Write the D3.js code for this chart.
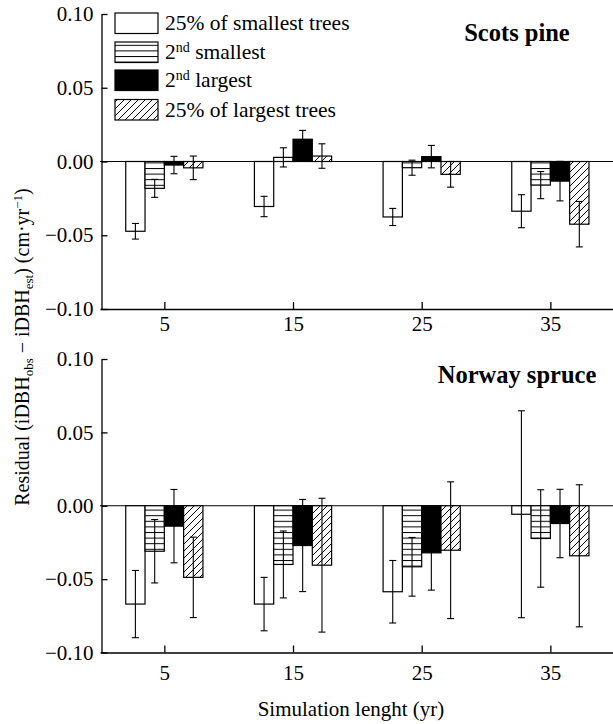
<!DOCTYPE html>
<html>
<head>
<meta charset="utf-8">
<script src="https://cdn.jsdelivr.net/npm/d3@7"></script>
<style>
  html, body { margin: 0; padding: 0; background: #fff; }
  svg { display: block; }
</style>
</head>
<body>
<script>
// ---- data ----
const years = [5, 15, 25, 35];
const seriesNames = ["25% of smallest trees", "2nd smallest", "2nd largest", "25% of largest trees"];
const yTicks = [-0.10, -0.05, 0.00, 0.05, 0.10];

// Scots pine
const pineSmallest      = [-0.0473, -0.0305, -0.0376, -0.0337];
const pineSmallestErr   = [0.0053, 0.0069, 0.0058, 0.0112];
const pine2ndSmallest   = [-0.0182, 0.0028, -0.0042, -0.0160];
const pine2ndSmallestErr= [0.0061, 0.0065, 0.0051, 0.0092];
const pine2ndLargest    = [-0.0024, 0.0151, 0.0033, -0.0133];
const pine2ndLargestErr = [0.0059, 0.0060, 0.0076, 0.0134];
const pineLargest       = [-0.0043, 0.0037, -0.0087, -0.0425];
const pineLargestErr    = [0.0080, 0.0083, 0.0087, 0.0154];

// Norway spruce
const spruceSmallest      = [-0.0670, -0.0670, -0.0586, -0.0058];
const spruceSmallestErr   = [0.0229, 0.0182, 0.0213, 0.0705];
const spruce2ndSmallest   = [-0.0310, -0.0400, -0.0416, -0.0223];
const spruce2ndSmallestErr= [0.0216, 0.0228, 0.0200, 0.0332];
const spruce2ndLargest    = [-0.0139, -0.0271, -0.0321, -0.0121];
const spruce2ndLargestErr = [0.0250, 0.0314, 0.0254, 0.0233];
const spruceLargest       = [-0.0488, -0.0405, -0.0303, -0.0341];
const spruceLargestErr    = [0.0274, 0.0456, 0.0466, 0.0484];

const pineSeries = [
  [pineSmallest, pineSmallestErr], [pine2ndSmallest, pine2ndSmallestErr],
  [pine2ndLargest, pine2ndLargestErr], [pineLargest, pineLargestErr]];
const spruceSeries = [
  [spruceSmallest, spruceSmallestErr], [spruce2ndSmallest, spruce2ndSmallestErr],
  [spruce2ndLargest, spruce2ndLargestErr], [spruceLargest, spruceLargestErr]];

// ---- drawing ----
const W = 613, H = 724;
const FONT = "'Liberation Serif', 'Times New Roman', serif";
const svg = d3.select("body").append("svg").attr("width", W).attr("height", H);

const defs = svg.append("defs");
const ps = defs.append("pattern").attr("id", "hstripe").attr("patternUnits", "userSpaceOnUse")
  .attr("width", 10).attr("height", 5.6);
ps.append("rect").attr("width", 10).attr("height", 5.6).attr("fill", "#fff");
ps.append("line").attr("x1", 0).attr("x2", 10).attr("y1", 0.5).attr("y2", 0.5)
  .attr("stroke", "#000").attr("stroke-width", 1);
const ph = defs.append("pattern").attr("id", "hatch").attr("patternUnits", "userSpaceOnUse")
  .attr("width", 7).attr("height", 7);
ph.append("rect").attr("width", 7).attr("height", 7).attr("fill", "#fff");
ph.append("path").attr("d", "M-1,1 l2,-2 M0,7 l7,-7 M6,8 l2,-2")
  .attr("stroke", "#000").attr("stroke-width", 1);

const fills = ["#fff", "url(#hstripe)", "#000", "url(#hatch)"];

const x = d3.scaleLinear().domain([0, 40]).range([100, 614.7]);
const barW = 1.5; // in x units

function panel(series, yRange, title, titleY, xLabelPad) {
  const y = d3.scaleLinear().domain([-0.10, 0.10]).range(yRange);
  const g = svg.append("g");

  // zero line
  g.append("line").attr("x1", x(0)).attr("x2", W).attr("y1", y(0)).attr("y2", y(0))
    .attr("stroke", "#000").attr("stroke-width", 1.1);

  series.forEach((s, si) => {
    const [vals, errs] = s;
    const bg = g.append("g");
    bg.selectAll("rect").data(years).join("rect")
      .attr("x", (d) => x(d + (si - 2) * barW))
      .attr("width", x(barW) - x(0))
      .attr("y", (d, i) => Math.min(y(vals[i]), y(0)))
      .attr("height", (d, i) => Math.abs(y(vals[i]) - y(0)))
      .attr("fill", fills[si]).attr("stroke", "#000").attr("stroke-width", 1.2);
  });
  series.forEach((s, si) => {
    const [vals, errs] = s;
    const eg = g.append("g").attr("stroke", "#000").attr("stroke-width", 1.1);
    years.forEach((d, i) => {
      const cx = x(d + (si - 1.5) * barW);
      const y1 = y(vals[i] + errs[i]), y2 = y(vals[i] - errs[i]);
      eg.append("line").attr("x1", cx).attr("x2", cx).attr("y1", y1).attr("y2", y2);
      eg.append("line").attr("x1", cx - 3.5).attr("x2", cx + 3.5).attr("y1", y1).attr("y2", y1);
      eg.append("line").attr("x1", cx - 3.5).attr("x2", cx + 3.5).attr("y1", y2).attr("y2", y2);
    });
  });

  // axes
  const ya = g.append("g").attr("transform", `translate(${x(0) + 1.5},0)`)
    .call(d3.axisLeft(y).tickValues(yTicks).tickFormat(d3.format(".2f"))
      .tickSizeInner(-6).tickSizeOuter(0).tickPadding(8));
  const xa = g.append("g").attr("transform", `translate(0,${yRange[0]})`)
    .call(d3.axisBottom(x).tickValues(years).tickSizeInner(-7).tickSizeOuter(0).tickPadding(xLabelPad));
  [ya, xa].forEach(a => {
    a.attr("font-family", FONT).attr("font-size", 21);
    a.selectAll("path, line").attr("stroke", "#000").attr("stroke-width", 1.3);
    a.selectAll("text").attr("fill", "#000");
  });

  g.append("text").attr("x", 517).attr("y", titleY).attr("text-anchor", "middle")
    .attr("font-family", FONT).attr("font-weight", "bold").attr("font-size", 24.5)
    .text(title);
}

panel(pineSeries, [309, 14], "Scots pine", 41, 7);
panel(spruceSeries, [652.5, 359], "Norway spruce", 383, 12.5);

// legend
const lg = svg.append("g");
const legY = [13, 42, 70, 99.5];
seriesNames.forEach((name, i) => {
  lg.append("rect").attr("x", 115).attr("y", legY[i]).attr("width", 43).attr("height", 20.5)
    .attr("fill", fills[i]).attr("stroke", "#000").attr("stroke-width", 1.2);
  const t = lg.append("text").attr("x", 165).attr("y", legY[i] + 17)
    .attr("font-family", FONT).attr("font-size", 21.5).attr("fill", "#000");
  const m = name.match(/^(\d)(nd)(.*)$/);
  if (m) {
    t.append("tspan").text(m[1]);
    t.append("tspan").attr("font-size", 14).attr("dy", -7.5).text(m[2]);
    t.append("tspan").attr("dy", 7.5).text(m[3]);
  } else {
    t.text(name);
  }
});

// axis titles
svg.append("text").attr("x", 351).attr("y", 716).attr("text-anchor", "middle")
  .attr("font-family", FONT).attr("font-size", 21).attr("fill", "#000")
  .text("Simulation lenght (yr)");

const yl = svg.append("text").attr("transform", "translate(29,347) rotate(-90)")
  .attr("text-anchor", "middle").attr("font-family", FONT).attr("font-size", 20).attr("fill", "#000");
yl.append("tspan").text("Residual (iDBH");
yl.append("tspan").attr("font-size", 13).attr("dy", 4).text("obs");
yl.append("tspan").attr("dy", -4).text(" − iDBH");
yl.append("tspan").attr("font-size", 13).attr("dy", 4).text("est");
yl.append("tspan").attr("dy", -4).text(") (cm·yr");
yl.append("tspan").attr("font-size", 13).attr("dy", -7).text("−1");
yl.append("tspan").attr("dy", 7).text(")");
</script>
</body>
</html>
